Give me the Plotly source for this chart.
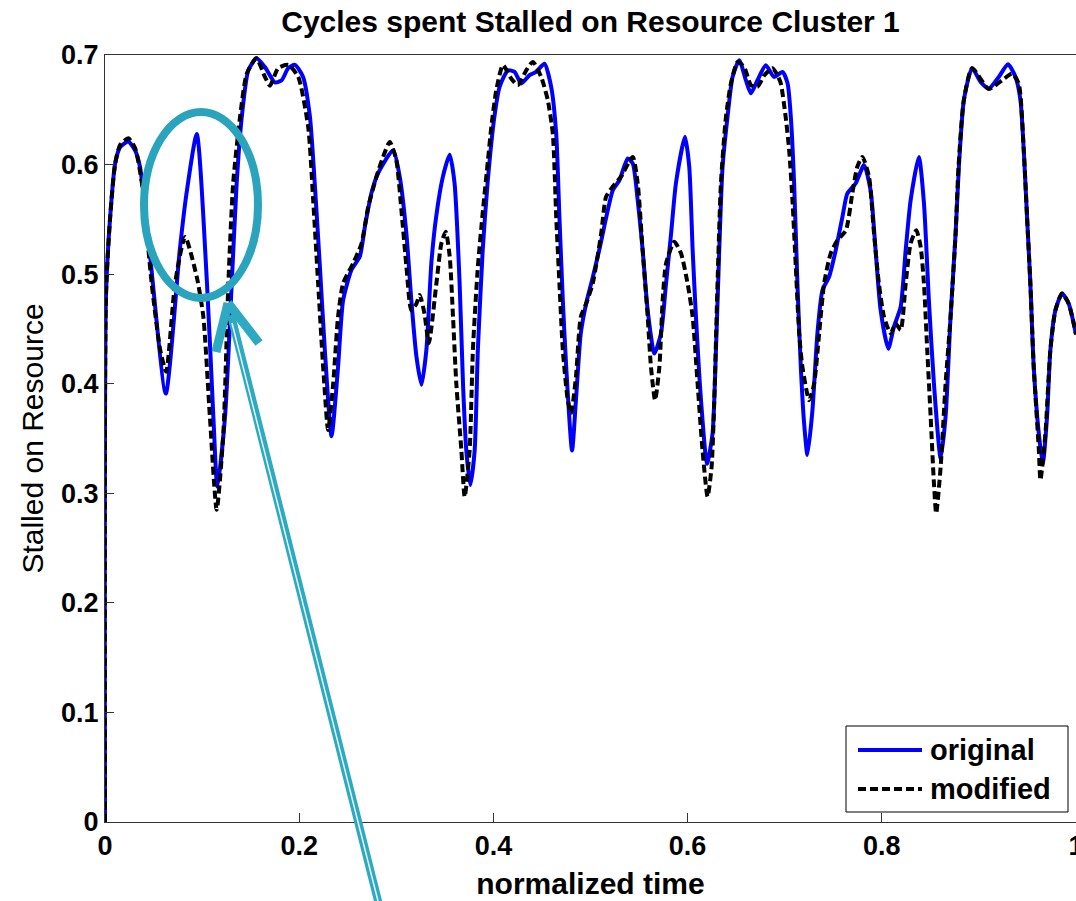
import plotly.graph_objects as go

# ---------------- data ----------------
orig_x = [0, 0.001, 0.0053, 0.0105, 0.0156, 0.024, 0.031, 0.036, 0.0465, 0.0626, 0.077, 0.084, 0.0945,
          0.105, 0.1116, 0.1157, 0.1236, 0.1305, 0.1356, 0.1408, 0.1476, 0.156, 0.1647, 0.175, 0.182,
          0.1887, 0.1956, 0.204, 0.211, 0.216, 0.2213, 0.2264, 0.2333, 0.240, 0.2452, 0.2539, 0.2624,
          0.2676, 0.2744, 0.2812, 0.2967, 0.3035, 0.3104, 0.3155, 0.3207, 0.3259, 0.331, 0.3361, 0.341,
          0.348, 0.355, 0.360, 0.3652, 0.3687, 0.3721, 0.3762, 0.3807, 0.384, 0.389, 0.394, 0.401,
          0.4064, 0.415, 0.4218, 0.4287, 0.4372, 0.444, 0.4526, 0.4595, 0.4647, 0.468, 0.4715, 0.475,
          0.481, 0.485, 0.490, 0.4955, 0.5023, 0.509, 0.5177, 0.523, 0.5298, 0.5383, 0.5435, 0.5486,
          0.5537, 0.5589, 0.5658, 0.5726, 0.5778, 0.583, 0.588, 0.5973, 0.6017, 0.6052, 0.6086, 0.6138,
          0.620, 0.6257, 0.6292, 0.6326, 0.636, 0.6411, 0.6463, 0.6532, 0.660, 0.6652, 0.672, 0.6806,
          0.689, 0.6977, 0.703, 0.7063, 0.7097, 0.7131, 0.7166, 0.720, 0.7234, 0.7286, 0.7337, 0.7389,
          0.7457, 0.7526, 0.7594, 0.7645, 0.7732, 0.7817, 0.7884, 0.7936, 0.7988, 0.8067, 0.8125,
          0.8194, 0.8246, 0.8297, 0.8382, 0.8434, 0.8485, 0.8537, 0.8606, 0.8657, 0.8708, 0.876,
          0.8794, 0.8845, 0.893, 0.9017, 0.9102, 0.9205, 0.930, 0.9377, 0.9428, 0.9462, 0.9496, 0.953,
          0.9565, 0.9617, 0.9658, 0.9702, 0.9736, 0.9788, 0.9856, 0.9925, 1.0]
orig_y = [0, 0.48, 0.552, 0.601, 0.616, 0.621, 0.613, 0.598, 0.516, 0.391, 0.522, 0.574, 0.628,
          0.492, 0.370, 0.306, 0.370, 0.491, 0.583, 0.643, 0.686, 0.697, 0.689, 0.675, 0.677,
          0.688, 0.691, 0.680, 0.644, 0.583, 0.507, 0.431, 0.352, 0.415, 0.476, 0.504, 0.516,
          0.543, 0.574, 0.592, 0.613, 0.589, 0.537, 0.476, 0.425, 0.399, 0.431, 0.510, 0.552,
          0.589, 0.609, 0.583, 0.492, 0.400, 0.339, 0.3075, 0.339, 0.431, 0.522, 0.583, 0.6435,
          0.671, 0.686, 0.6846, 0.674, 0.6816, 0.6846, 0.692, 0.671, 0.628, 0.552, 0.476, 0.415,
          0.339, 0.385, 0.446, 0.473, 0.497, 0.522, 0.558, 0.5766, 0.5857, 0.6055, 0.601, 0.5675,
          0.522, 0.467, 0.4276, 0.446, 0.4915, 0.537, 0.583, 0.6253, 0.598, 0.522, 0.461, 0.385,
          0.327, 0.3546, 0.4307, 0.522, 0.598, 0.6435, 0.680, 0.6953, 0.677, 0.665, 0.677, 0.6907,
          0.680, 0.6846, 0.674, 0.6435, 0.583, 0.4915, 0.415, 0.3638, 0.335, 0.376, 0.446, 0.4854,
          0.4975, 0.522, 0.552, 0.5736, 0.583, 0.5995, 0.5766, 0.522, 0.467, 0.432, 0.452,
          0.470, 0.522, 0.5675, 0.607, 0.565, 0.476, 0.400, 0.332, 0.370, 0.461, 0.537,
          0.598, 0.6588, 0.688, 0.6755, 0.6694, 0.680, 0.6916, 0.680, 0.6588, 0.613, 0.552, 0.4915,
          0.415, 0.3546, 0.327, 0.370, 0.4307, 0.467, 0.4824, 0.473, 0.445]

mod_x = [0, 0.001, 0.0053, 0.0105, 0.0156, 0.024, 0.031, 0.038, 0.048, 0.0568, 0.0629, 0.0722, 0.0825,
         0.0945, 0.1013, 0.108, 0.115, 0.1219, 0.127, 0.132, 0.139, 0.146, 0.156, 0.1647, 0.1699,
         0.1784, 0.1887, 0.199, 0.2093, 0.2144, 0.2195, 0.2247, 0.2298, 0.235, 0.240, 0.2452, 0.2555,
         0.2642, 0.271, 0.2796, 0.2864, 0.2933, 0.300, 0.3053, 0.3104, 0.3155, 0.3207, 0.3241, 0.329,
         0.3335, 0.3413, 0.3464, 0.3509, 0.355, 0.3584, 0.3618, 0.367, 0.3704, 0.3755, 0.3789, 0.384,
         0.3892, 0.3944, 0.3978, 0.403, 0.4098, 0.4184, 0.4252, 0.4338, 0.4406, 0.4492, 0.456, 0.4612,
         0.4647, 0.468, 0.4715, 0.4766, 0.480, 0.485, 0.490, 0.4955, 0.5023, 0.511, 0.516, 0.523,
         0.5315, 0.5435, 0.5486, 0.5537, 0.5589, 0.5623, 0.5665, 0.5709, 0.5743, 0.5778, 0.5863,
         0.5932, 0.600, 0.6052, 0.6103, 0.6154, 0.6206, 0.6247, 0.6275, 0.6308, 0.6343, 0.6395,
         0.6446, 0.6515, 0.6583, 0.6652, 0.672, 0.679, 0.6874, 0.6926, 0.696, 0.701, 0.7046, 0.708,
         0.7114, 0.7149, 0.7183, 0.7252, 0.7303, 0.7355, 0.7406, 0.7474, 0.7543, 0.763, 0.7696,
         0.7748, 0.780, 0.7868, 0.792, 0.797, 0.8023, 0.8091, 0.8143, 0.8194, 0.8246, 0.8297, 0.8355,
         0.840, 0.8434, 0.8468, 0.8503, 0.8537, 0.856, 0.8606, 0.8657, 0.8708, 0.876, 0.879, 0.8845,
         0.893, 0.9102, 0.924, 0.9342, 0.941, 0.9462, 0.9496, 0.953, 0.9565, 0.9617, 0.9634, 0.9685,
         0.9736, 0.9788, 0.9856, 0.9925, 1.0]
mod_y = [0, 0.48, 0.552, 0.601, 0.618, 0.624, 0.615, 0.583, 0.492, 0.431, 0.411, 0.492, 0.534,
         0.4975, 0.461, 0.370, 0.285, 0.355, 0.491, 0.583, 0.643, 0.683, 0.697, 0.680, 0.672,
         0.688, 0.691, 0.680, 0.634, 0.5675, 0.4915, 0.415, 0.3577, 0.400, 0.461, 0.4915, 0.5097,
         0.528, 0.561, 0.589, 0.607, 0.6207, 0.604, 0.558, 0.507, 0.467, 0.473, 0.481, 0.464,
         0.437, 0.4915, 0.528, 0.5386, 0.516, 0.461, 0.400, 0.3394, 0.2968, 0.339, 0.431, 0.5067,
         0.558, 0.604, 0.634, 0.668, 0.6907, 0.6785, 0.6725, 0.686, 0.6937, 0.680, 0.6588, 0.628,
         0.552, 0.4915, 0.4307, 0.385, 0.373, 0.4063, 0.461, 0.473, 0.4915, 0.537, 0.5705, 0.580,
         0.589, 0.607, 0.583, 0.522, 0.461, 0.415, 0.385, 0.415, 0.476, 0.5097, 0.5295,
         0.519, 0.4915, 0.461, 0.400, 0.339, 0.2968, 0.324, 0.385, 0.4915, 0.583, 0.6435,
         0.674, 0.6937, 0.689, 0.6725, 0.671, 0.6815, 0.688, 0.6815, 0.674, 0.6435, 0.613, 0.5675,
         0.507, 0.446, 0.415, 0.385, 0.400, 0.446, 0.4915, 0.519, 0.531, 0.540, 0.5736,
         0.598, 0.607, 0.589, 0.537, 0.4915, 0.461, 0.446, 0.455, 0.449, 0.4915, 0.528, 0.540,
         0.525, 0.4915, 0.4307, 0.370, 0.309, 0.2817, 0.324, 0.400, 0.461, 0.537, 0.598, 0.6588,
         0.688, 0.669, 0.677, 0.683, 0.674, 0.613, 0.552, 0.4915, 0.415, 0.340, 0.312, 0.3546,
         0.4307, 0.467, 0.4824, 0.473, 0.445]

series_names = ["original", "modified"]
x_ticks = [0, 0.2, 0.4, 0.6, 0.8, 1]
x_ticktext = ["0", "0.2", "0.4", "0.6", "0.8", "1"]
y_ticks = [0, 0.1, 0.2, 0.3, 0.4, 0.5, 0.6, 0.7]
y_ticktext = ["0", "0.1", "0.2", "0.3", "0.4", "0.5", "0.6", "0.7"]

# ---------------- layout geometry ----------------
W, H = 1076, 901
ML, MR, MT, MB = 105, 0, 55, 79
PW, PH = W - ML - MR, H - MT - MB
FONT = "Liberation Sans, Arial, Helvetica, sans-serif"
TEAL = "#2ea9c2"


def fx(px):
    return (px - ML) / PW


def fy(py):
    return (H - MB - py) / PH


fig = go.Figure()
fig.add_trace(go.Scatter(x=orig_x, y=orig_y, name=series_names[0], mode="lines",
                         line=dict(color="#0000ff", width=4, shape="spline", smoothing=0.6),
                         showlegend=False))
fig.add_trace(go.Scatter(x=mod_x, y=mod_y, name=series_names[1], mode="lines",
                         line=dict(color="#000000", width=4, dash="8px,4px", shape="spline", smoothing=0.6),
                         showlegend=False))

shapes = []
# highlight ellipse (two tones to suggest the light-to-dark teal gradient)
shapes.append(dict(type="circle", xref="paper", yref="paper",
                   x0=fx(144), x1=fx(258), y0=fy(298), y1=fy(112),
                   line=dict(color="#2aa3bc", width=8), layer="above"))
# arrow shaft (double line)
tip = (228, 303)
tail = (379, 905)
shapes.append(dict(type="line", xref="paper", yref="paper",
                   x0=fx(tip[0] + 3), y0=fy(tip[1] + 12), x1=fx(tail[0]), y1=fy(tail[1]),
                   line=dict(color=TEAL, width=8), layer="above"))
shapes.append(dict(type="line", xref="paper", yref="paper",
                   x0=fx(tip[0] + 4), y0=fy(tip[1] + 20), x1=fx(tail[0]), y1=fy(tail[1]),
                   line=dict(color="#e6f6f9", width=1.5), layer="above"))
# arrow head arms
shapes.append(dict(type="line", xref="paper", yref="paper",
                   x0=fx(tip[0]), y0=fy(tip[1]), x1=fx(216), y1=fy(352),
                   line=dict(color=TEAL, width=9), layer="above"))
shapes.append(dict(type="line", xref="paper", yref="paper",
                   x0=fx(tip[0]), y0=fy(tip[1]), x1=fx(259), y1=fy(343),
                   line=dict(color=TEAL, width=9), layer="above"))

# legend box (MATLAB style)
shapes.append(dict(type="rect", xref="paper", yref="paper",
                   x0=fx(846), x1=fx(1068), y0=fy(812), y1=fy(726),
                   line=dict(color="#000000", width=1), fillcolor="white", layer="above"))
shapes.append(dict(type="line", xref="paper", yref="paper",
                   x0=fx(858), x1=fx(922), y0=fy(750), y1=fy(750),
                   line=dict(color="#0000ff", width=4), layer="above"))
shapes.append(dict(type="line", xref="paper", yref="paper",
                   x0=fx(858), x1=fx(922), y0=fy(789), y1=fy(789),
                   line=dict(color="#000000", width=4, dash="8px,4px"), layer="above"))

annotations = []
for name, yy in zip(series_names, [750, 789]):
    annotations.append(dict(xref="paper", yref="paper", x=fx(928), y=fy(yy),
                            xanchor="left", yanchor="middle", showarrow=False, text=name,
                            font=dict(family=FONT, size=29, color="black", weight="bold")))

axis_common = dict(showline=True, mirror=True, linecolor="#333333", linewidth=1,
                   ticks="inside", ticklen=9, tickwidth=1, tickcolor="#333333",
                   showgrid=False, zeroline=False, automargin=False,
                   ticklabeloverflow="allow",
                   tickfont=dict(family=FONT, size=27, color="black", weight="bold"))

fig.update_layout(
    template="none",
    width=W, height=H,
    margin=dict(l=ML, r=MR, t=MT, b=MB, pad=0),
    paper_bgcolor="white", plot_bgcolor="white",
    title=dict(text="Cycles spent Stalled on Resource Cluster 1",
               font=dict(family=FONT, size=30, color="black", weight="bold"),
               x=0.5, xref="paper", xanchor="center",
               y=1 - 21 / H, yref="container", yanchor="middle"),
    xaxis=dict(range=[0, 1], tickvals=x_ticks, ticktext=x_ticktext,
               title=dict(text="normalized time", standoff=12,
                          font=dict(family=FONT, size=30, color="black", weight="bold")),
               **axis_common),
    yaxis=dict(range=[0, 0.7], tickvals=y_ticks, ticktext=y_ticktext,
               title=dict(text="Stalled on Resource", standoff=8,
                          font=dict(family=FONT, size=30, color="black")),
               **axis_common),
    shapes=shapes,
    annotations=annotations,
    showlegend=False,
)

fig.write_html("out.html")
